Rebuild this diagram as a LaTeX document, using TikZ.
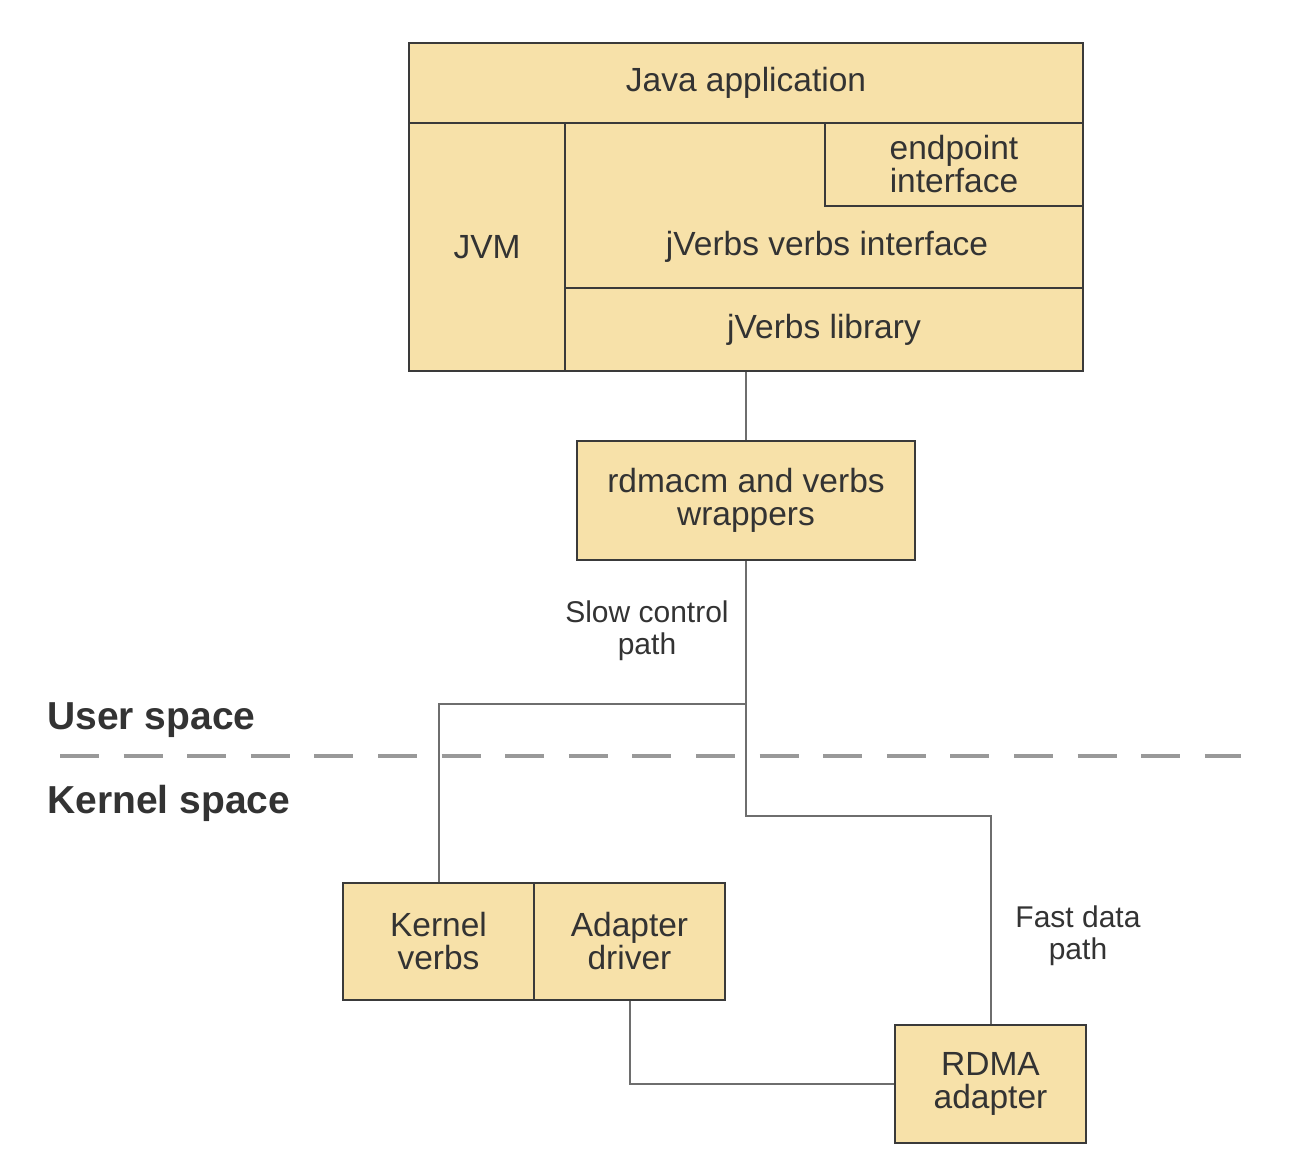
\documentclass[tikz,border=0pt]{standalone}
\usepackage{fontspec}
\setmainfont{Liberation Sans}
\usepackage[]{xcolor}
\usepackage{tikz}

\definecolor{boxfill}{HTML}{F7E1A9}
\definecolor{boxline}{HTML}{3A3A3A}
\definecolor{wirecol}{HTML}{6E6E6E}
\definecolor{sepcol}{HTML}{999999}
\definecolor{txtcol}{HTML}{333333}

\newcommand\blkfont{\fontsize{16.75}{16.5}\selectfont}
\newcommand\pathfont{\fontsize{15}{16}\selectfont}
\newcommand\spacefont{\fontsize{19.5}{20}\selectfont\bfseries}

\tikzset{
    blk/.style={draw=boxline, fill=boxfill, line width=1.2pt, inner sep=0pt,
        align=center, font=\blkfont, text=txtcol},
    lbl/.style={inner sep=0pt, align=center, font=\pathfont, text=txtcol},
    spacelbl/.style={inner sep=0pt, anchor=base west, font=\spacefont, text=txtcol},
    wire/.style={draw=wirecol, line width=1pt},
    sepline/.style={draw=sepcol, line width=2.3pt, dash pattern=on 19.5pt off 12.3pt},
}

\begin{document}
\begin{tikzpicture}[x=0.5pt, y=-0.5pt]
    \useasboundingbox (0,0) rectangle (1313,1166);
    % user / kernel split
    \coordinate (sepL) at (60,756);
    \coordinate (sepR) at (1241,756);
    \draw[sepline] (sepL) -- (sepR);
    \node[spacelbl] (user) at (47,729) {User space};
    \node[spacelbl] (kernel) at (47,813) {Kernel space};
    % java stack
    \node[blk, minimum width=337pt, minimum height=40pt] (java) at (746,83) {Java application};
    \node[blk, minimum width=78pt, minimum height=124pt] (jvm) at (487,247) {JVM};
    \node[blk, minimum width=259pt, minimum height=82.5pt] (verbsif) at (824,205.5) {};
    \node[blk, minimum width=129pt, minimum height=41.5pt] (endpt) at (954,164.5) {endpoint\\interface};
    \node[lbl, font=\blkfont] (verbsiftxt) at (827,247) {jVerbs verbs interface};
    \node[blk, minimum width=259pt, minimum height=41.5pt] (jvlib) at (824,329.5) {jVerbs library};
    % native side
    \node[blk, minimum width=169pt, minimum height=59.5pt] (rdmacm) at (746,500.5) {rdmacm and verbs\\wrappers};
    \node[blk, minimum width=95.5pt, minimum height=58.5pt] (kverbs) at (438.5,941.5) {Kernel\\verbs};
    \node[blk, minimum width=95.5pt, minimum height=58.5pt] (adrv) at (629.5,941.5) {Adapter\\driver};
    \node[blk, minimum width=95.5pt, minimum height=59pt] (rdma) at (990.5,1084) {RDMA\\adapter};
    % paths
    \coordinate (fork) at (746,704);
    \coordinate (fastbend) at (746,816);
    \draw[wire] (jvlib.south -| rdmacm.north) -- (rdmacm.north);
    \draw[wire] (rdmacm.south) -- (fork) -| (kverbs.north);
    \draw[wire] (fork) -- (fastbend) -| (rdma.north);
    \draw[wire] (adrv.south) |- (rdma.west);
    \node[lbl] (slow) at (647,631) {Slow control\\path};
    \node[lbl] (fast) at (1078,936) {Fast data\\path};
\end{tikzpicture}
\end{document}
